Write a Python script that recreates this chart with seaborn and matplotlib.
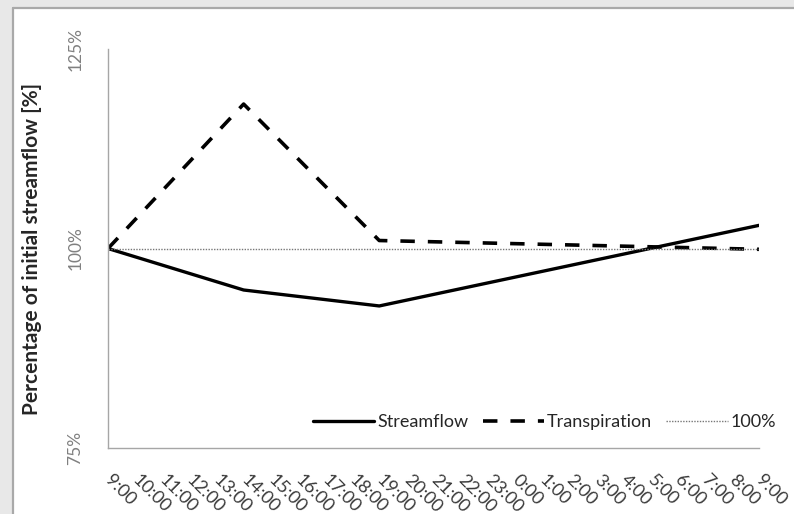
import numpy as np
import pandas as pd
import matplotlib
matplotlib.use("Agg")
import matplotlib.pyplot as plt
import seaborn as sns
from matplotlib.patches import Rectangle
from matplotlib.lines import Line2D

# ---- data ----
hours = ['9:00', '10:00', '11:00', '12:00', '13:00', '14:00', '15:00', '16:00',
         '17:00', '18:00', '19:00', '20:00', '21:00', '22:00', '23:00', '0:00',
         '1:00', '2:00', '3:00', '4:00', '5:00', '6:00', '7:00', '8:00', '9:00']
streamflow = [100.0, None, None, None, None, 94.8, None, None, None, None, 92.8,
              None, None, None, None, None, None, None, None, None, None, None,
              None, None, 102.9]
transpiration = [100.0, None, None, None, None, 118.1, None, None, None, None, 101.0,
                 None, None, None, None, None, None, None, None, None, None, None,
                 None, None, 99.9]
reference = [100.0] * len(hours)
y_labels = ['75%', '100%', '125%']
y_label_vals = [75, 100, 125]
y_minor = [75, 85, 95, 105, 115, 125]

df = pd.DataFrame({'pos': np.arange(len(hours)), 'hour': hours,
                   'Streamflow': streamflow, 'Transpiration': transpiration,
                   '100%': reference})

sns.set_theme(style='white')
plt.rcParams['font.family'] = ['Lato', 'DejaVu Sans']

W, H = 794, 514
fig = plt.figure(figsize=(W / 100, H / 100), dpi=100)
fig.patch.set_facecolor('#e8e8e8')
# white chart panel with grey border on left/top
panel = Rectangle((14 / W, 0), 1.0, 1 - 9 / H, transform=fig.transFigure,
                  facecolor='white', edgecolor='none', zorder=-10)
fig.add_artist(panel)
fig.add_artist(Line2D([13 / W, 13 / W], [0, 1 - 8 / H], transform=fig.transFigure,
                      color='#a9a9a9', lw=1.6, zorder=-5))
fig.add_artist(Line2D([13 / W, 1], [1 - 8 / H, 1 - 8 / H], transform=fig.transFigure,
                      color='#a9a9a9', lw=1.6, zorder=-5))

left, right, top, bottom = 108, 759, 49, 448
ax = fig.add_axes([left / W, 1 - bottom / H, (right - left) / W, (bottom - top) / H])
ax.set_facecolor('none')
ax.set_zorder(5)

s = df.dropna(subset=['Streamflow'])
t = df.dropna(subset=['Transpiration'])
sns.lineplot(data=s, x='pos', y='Streamflow', ax=ax, color='black', lw=2.4,
             label='Streamflow', solid_joinstyle='round', solid_capstyle='round')
sns.lineplot(data=t, x='pos', y='Transpiration', ax=ax, color='black', lw=2.6,
             label='Transpiration')
ax.lines[-1].set_dashes((4.0, 3.6))
sns.lineplot(data=df, x='pos', y='100%', ax=ax, color='#777777', lw=1.0,
             label='100%')
ax.lines[-1].set_linestyle((0, (1, 1)))

ax.set_xlim(0, len(hours) - 1)
ax.set_ylim(75, 125)

for sp in ['top', 'right']:
    ax.spines[sp].set_visible(False)
for sp in ['left', 'bottom']:
    ax.spines[sp].set_color('#a6a6a6')
    ax.spines[sp].set_linewidth(1.0)

ax.set_yticks(y_label_vals)
ax.set_yticklabels(y_labels, rotation=90, va='center', ha='center', color='#808080', fontsize=12.5)
ax.set_yticks(y_minor, minor=True)
ax.tick_params(axis='y', which='major', length=0, pad=23.4)
ax.tick_params(axis='y', which='minor', length=5, width=1, color='#a6a6a6', direction='out')

ax.set_xticks(df['pos'])
ax.set_xticklabels(hours, rotation=-45, ha='left', va='center', rotation_mode='anchor',
                   fontsize=13, color='#3a3a3a')
ax.tick_params(axis='x', which='major', length=8, width=1, color='#a6a6a6',
               direction='inout', pad=17)

ax.set_xlabel('')
ax.set_ylabel('Percentage of initial streamflow [%]', fontsize=15,
              fontweight='bold', color='#262626')
ax.yaxis.set_label_coords((42 - left) / (right - left), 0.5)

leg = ax.legend(loc='center right', bbox_to_anchor=(776 / W, 1 - 422 / H),
                bbox_transform=fig.transFigure, ncol=3, frameon=False,
                fontsize=13, handlelength=3.4, handletextpad=0.15,
                columnspacing=0.8, borderaxespad=0, borderpad=0)
for txt in leg.get_texts():
    txt.set_color('#262626')

fig.savefig('out.png', dpi=100, facecolor=fig.get_facecolor())
